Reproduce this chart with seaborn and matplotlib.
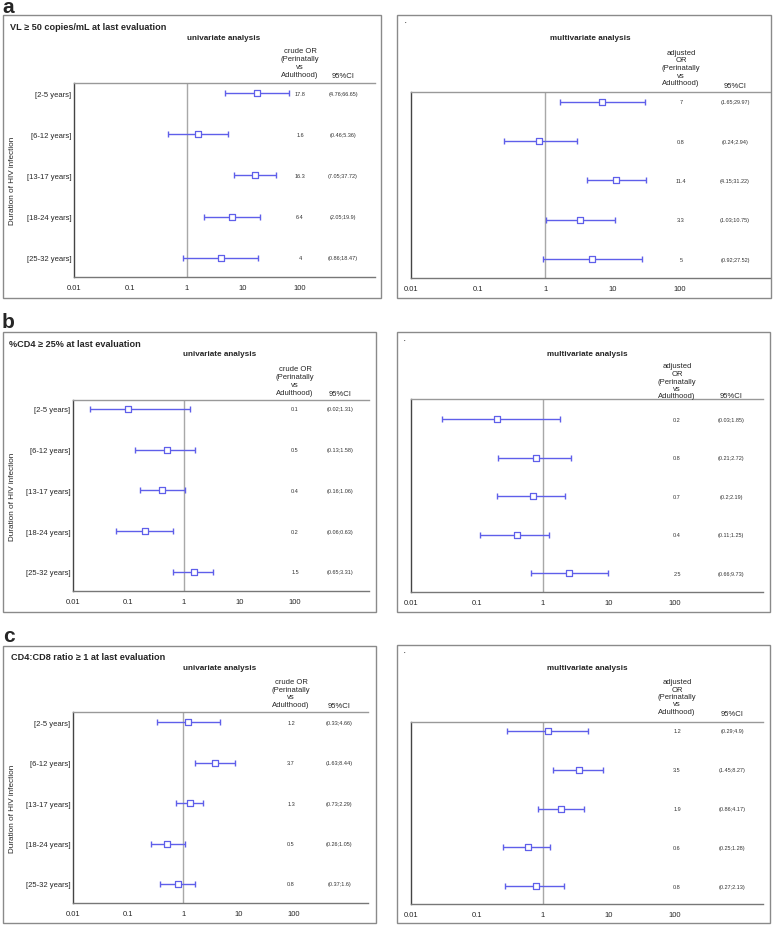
import numpy as np
import pandas as pd
import seaborn as sns
import matplotlib.pyplot as plt
import matplotlib.transforms as mtransforms
from matplotlib.patches import Rectangle
from matplotlib.ticker import FixedLocator, NullFormatter

durations = ["[2-5 years]", "[6-12 years]", "[13-17 years]", "[18-24 years]", "[25-32 years]"]

titles = ["VL \u2265 50 copies/mL at last evaluation",
          "%CD4 \u2265 25% at last evaluation",
          "CD4:CD8 ratio \u2265 1 at last evaluation"]
letters = ["a", "b", "c"]

# odds ratios and 95% CI (perinatally vs adulthood)
vl_crude = [17.8, 1.6, 16.3, 6.4, 4]
vl_crude_lo = [4.76, 0.46, 7.05, 2.05, 0.86]
vl_crude_hi = [66.65, 5.36, 37.72, 19.9, 18.47]
vl_adj = [7, 0.8, 11.4, 3.3, 5]
vl_adj_lo = [1.65, 0.24, 4.15, 1.03, 0.92]
vl_adj_hi = [29.97, 2.94, 31.22, 10.75, 27.52]

cd4_crude = [0.1, 0.5, 0.4, 0.2, 1.5]
cd4_crude_lo = [0.02, 0.13, 0.16, 0.06, 0.65]
cd4_crude_hi = [1.31, 1.58, 1.06, 0.63, 3.31]
cd4_adj = [0.2, 0.8, 0.7, 0.4, 2.5]
cd4_adj_lo = [0.03, 0.21, 0.2, 0.11, 0.66]
cd4_adj_hi = [1.85, 2.72, 2.19, 1.25, 9.73]

ratio_crude = [1.2, 3.7, 1.3, 0.5, 0.8]
ratio_crude_lo = [0.33, 1.63, 0.73, 0.26, 0.37]
ratio_crude_hi = [4.66, 8.44, 2.29, 1.05, 1.6]
ratio_adj = [1.2, 3.5, 1.9, 0.6, 0.8]
ratio_adj_lo = [0.29, 1.45, 0.86, 0.25, 0.27]
ratio_adj_hi = [4.9, 8.27, 4.17, 1.28, 2.13]

x_ticks = [0.01, 0.1, 1, 10, 100]
x_ticklabels = ["0.01", "0.1", "1", "10", "100"]

sns.set_style("white")
plt.rcParams['font.family'] = ['Liberation Sans', 'DejaVu Sans']

W, H = 778, 928
fig = plt.figure(figsize=(W / 100, H / 100), dpi=100)
BLUE = "#5f5fea"


def fx(x):
    return x / W


def fy(y):
    return 1 - y / H


def add_box(l, t, r, b):
    fig.add_artist(Rectangle((fx(l), fy(b)), (r - l) / W, (b - t) / H,
                             transform=fig.transFigure, fill=False,
                             ec="#8a8a8a", lw=1.0))


def forest(ax, ors, lo, hi, show_labels, or_x, ci_x, ylim):
    df = pd.DataFrame({"group": durations, "OR": ors, "lo": lo, "hi": hi})
    df["pos"] = np.arange(len(df))
    ax.axvline(1, color="#a8a8a8", lw=1, zorder=1)
    ax.errorbar(df["OR"], df["pos"],
                xerr=[df["OR"] - df["lo"], df["hi"] - df["OR"]],
                fmt="none", ecolor=BLUE, elinewidth=1, capsize=2.2,
                capthick=1, zorder=2)
    sns.scatterplot(data=df, x="OR", y="pos", marker="s", s=20,
                    color="white", edgecolor=BLUE, linewidth=0.9,
                    legend=False, ax=ax, zorder=3)
    ax.set_xscale("log")
    ax.set_xlim(0.01, 2200)
    ax.set_ylim(*ylim)
    ax.xaxis.set_major_locator(FixedLocator(x_ticks))
    ax.set_xticklabels(x_ticklabels)
    minors = [m * 10.0 ** k for k in range(-2, 2) for m in range(2, 10)]
    ax.xaxis.set_minor_locator(FixedLocator(minors))
    ax.xaxis.set_minor_formatter(NullFormatter())
    ax.tick_params(axis="x", which="major", length=3, width=0.8,
                   color="#555555", labelsize=5.5, pad=2, direction="out")
    ax.tick_params(axis="x", which="minor", length=2, width=0.6,
                   color="#777777", direction="out")
    ax.set_yticks(df["pos"])
    ax.set_yticklabels(df["group"] if show_labels else [])
    ax.tick_params(axis="y", length=0, pad=2, labelsize=5.5)
    ax.set_xlabel("")
    ax.set_ylabel("")
    ax.spines["right"].set_visible(False)
    ax.spines["top"].set_color("#999999")
    ax.spines["bottom"].set_color("#777777")
    ax.spines["left"].set_color("#444444")
    for sp in ["top", "bottom", "left"]:
        ax.spines[sp].set_linewidth(1)
    trans = mtransforms.blended_transform_factory(fig.transFigure, ax.transData)
    for p, v, a, b in zip(df["pos"], df["OR"], df["lo"], df["hi"]):
        ax.text(fx(or_x), p, f"{v:g}", transform=trans, ha="center",
                va="center", fontsize=4, color="#333333", clip_on=False)
        ax.text(fx(ci_x), p, f"({a:g};{b:g})", transform=trans, ha="center",
                va="center", fontsize=4, color="#333333", clip_on=False)


panel_data = [
    (vl_crude, vl_crude_lo, vl_crude_hi, vl_adj, vl_adj_lo, vl_adj_hi),
    (cd4_crude, cd4_crude_lo, cd4_crude_hi, cd4_adj, cd4_adj_lo, cd4_adj_hi),
    (ratio_crude, ratio_crude_lo, ratio_crude_hi, ratio_adj, ratio_adj_lo, ratio_adj_hi),
]

# pixel layout per panel row
layout = [
    dict(lab=(2, 13), title=(10, 27),
         lbox=(3, 16, 381, 299), lax=(74, 84, 375, 278), lylim=(4.47, -0.25),
         lsub=(224, 38), lhdr=(300, 63.5), lci=(343, 77),
         rbox=(397, 16, 771, 299), rax=(411, 93, 770, 279), rylim=(4.48, -0.25),
         rsub=(590, 38), rhdr=(681, 68.5), rci=(735, 86), dot=(406, 24)),
    dict(lab=(2, 328), title=(9, 345),
         lbox=(3, 333, 376, 613), lax=(73, 401, 369, 592), lylim=(4.47, -0.22),
         lsub=(220, 355), lhdr=(295, 381.5), lci=(340, 395),
         rbox=(397, 333, 770, 613), rax=(411, 400, 763, 593), rylim=(4.49, -0.52),
         rsub=(587, 354), rhdr=(677, 382), rci=(731, 397), dot=(405, 342)),
    dict(lab=(3, 642), title=(11, 658),
         lbox=(3, 647, 376, 924), lax=(73, 713, 368, 904), lylim=(4.47, -0.25),
         lsub=(220, 668), lhdr=(291, 694), lci=(339, 707),
         rbox=(397, 646, 770, 924), rax=(411, 723, 763, 905), rylim=(4.46, -0.23),
         rsub=(587, 668), rhdr=(677, 697.5), rci=(732, 715), dot=(405, 654)),
]

for letter, title, data, lay in zip(letters, titles, panel_data, layout):
    c_or, c_lo, c_hi, a_or, a_lo, a_hi = data
    fig.text(fx(lay["lab"][0]), fy(lay["lab"][1]), letter, fontsize=15,
             fontweight="bold", ha="left", va="baseline")
    add_box(*lay["lbox"])
    add_box(*lay["rbox"])
    fig.text(fx(lay["title"][0]), fy(lay["title"][1]), title, fontsize=6.6,
             fontweight="bold", ha="left", va="center")

    # univariate
    l, t, r, b = lay["lax"]
    ax = fig.add_axes([fx(l), fy(b), (r - l) / W, (b - t) / H])
    forest(ax, c_or, c_lo, c_hi, True, lay["lhdr"][0], lay["lci"][0], lay["lylim"])
    fig.text(fx(13), fy((t + b) / 2), "Duration of HIV infection", rotation=90,
             fontsize=5.9, ha="center", va="center")
    fig.text(fx(lay["lsub"][0]), fy(lay["lsub"][1]), "univariate analysis",
             fontsize=5.9, fontweight="bold", ha="center", va="center")
    fig.text(fx(lay["lhdr"][0]), fy(lay["lhdr"][1]),
             "crude OR\n(Perinatally\nvs\nAdulthood)", fontsize=5.5,
             ha="center", va="center", multialignment="center", linespacing=1.17)
    fig.text(fx(lay["lci"][0]), fy(lay["lci"][1]), "95%CI", fontsize=5.5,
             ha="center", va="center")

    # multivariate
    l, t, r, b = lay["rax"]
    ax = fig.add_axes([fx(l), fy(b), (r - l) / W, (b - t) / H])
    forest(ax, a_or, a_lo, a_hi, False, lay["rhdr"][0], lay["rci"][0], lay["rylim"])
    fig.text(fx(lay["dot"][0]), fy(lay["dot"][1]), "\u2022", fontsize=3,
             ha="center", va="center")
    fig.text(fx(lay["rsub"][0]), fy(lay["rsub"][1]), "multivariate analysis",
             fontsize=5.9, fontweight="bold", ha="center", va="center")
    fig.text(fx(lay["rhdr"][0]), fy(lay["rhdr"][1]),
             "adjusted\nOR\n(Perinatally\nvs\nAdulthood)", fontsize=5.5,
             ha="center", va="center", multialignment="center", linespacing=1.1)
    fig.text(fx(lay["rci"][0]), fy(lay["rci"][1]), "95%CI", fontsize=5.5,
             ha="center", va="center")

fig.savefig("out.png", dpi=100)
